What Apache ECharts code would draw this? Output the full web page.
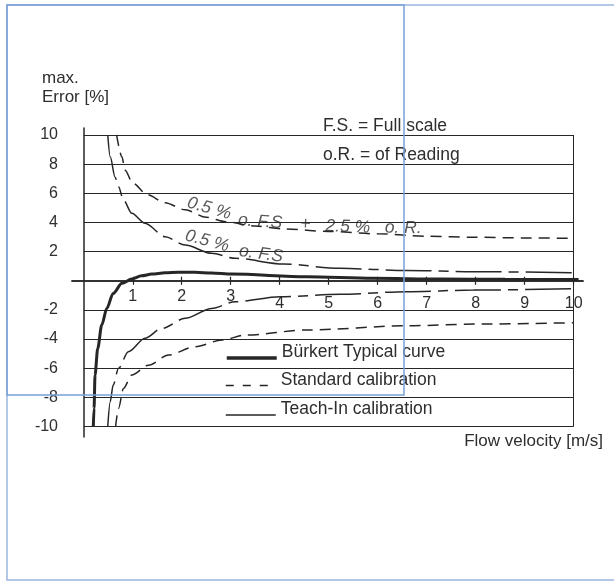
<!DOCTYPE html>
<html><head><meta charset="utf-8">
<script src="https://cdn.jsdelivr.net/npm/echarts@6/dist/echarts.min.js"></script>
<style>html,body{margin:0;padding:0;background:#fff}#c{width:614px;height:581px}</style>
</head><body><div id="c"></div>
<script>
// ---- data ----
const xTickValues = [1,2,3,4,5,6,7,8,9,10];
const yTickValues = [-10,-8,-6,-4,-2,2,4,6,8,10];
const gridValues  = [-10,-8,-6,-4,-2,2,4,6,8,10];

const burkertV = [0.195,0.21,0.23,0.285,0.367,0.47,0.60,0.78,0.98,1.18,1.39,1.66,1.93,2.27,2.61,3.02,4.55,5.9,7.3,8.6,10.1];
const burkertE = [-10,-8.76,-6.47,-4.64,-3.04,-1.9,-0.87,-0.18,0.12,0.34,0.46,0.55,0.58,0.58,0.53,0.46,0.27,0.17,0.12,0.10,0.08];

const stdUpV = [0.67,0.78,0.84,1.0,1.3,1.66,2.07,2.5,2.9,3.5,4.1,5.0,6.0,7.0,8.0,9.0,10.0];
const stdUpE = [10,8.5,7.6,6.7,5.9,5.35,4.87,4.35,4.05,3.75,3.55,3.38,3.22,3.05,2.98,2.94,2.91];
const stdLoV = [0.65,0.71,0.81,0.98,1.32,1.73,2.27,2.82,3.29,4.55,6.59,8.0,10.0];
const stdLoE = [-10,-8.76,-7.39,-6.47,-5.79,-5.1,-4.53,-4.07,-3.73,-3.38,-3.09,-2.97,-2.88];

const tiUpV = [0.49,0.54,0.64,0.71,0.81,0.98,1.25,1.66,2.07,2.61,3.09,4.07,5.23,6.59,7.95,10.0];
const tiUpE = [10,8.5,7.1,6.45,5.54,4.63,3.94,3.02,2.45,1.88,1.54,1.15,0.85,0.71,0.62,0.55];
const tiLoV = [0.49,0.54,0.60,0.71,0.91,1.25,1.59,2.07,2.61,3.09,4.01,5.23,6.59,7.95,10.0];
const tiLoE = [-10,-8.3,-7.16,-6.0,-4.87,-3.95,-3.27,-2.58,-1.9,-1.44,-1.1,-0.93,-0.75,-0.64,-0.55];

const annotText = ['0.5 %','o. F.S','+','2.5 %','o. R.','0.5 %','o. F.S'];
const annotV    = [2.56, 3.60, 4.52, 5.39, 6.52, 2.52, 3.62];
const annotE    = [4.96, 4.05, 3.89, 3.69, 3.62, 2.72, 1.83];
const annotRot  = [-16, -4, -2, -2, -1, -15, -8];

const seriesNames = ['Bürkert Typical curve','Standard calibration','Teach-In calibration'];
// -------------------------------------

const F = "'Liberation Sans', Arial, Helvetica, sans-serif";
const C = '#262626';
const T = '#2e2e2e';
const pts = (vs, es) => vs.map((v, i) => [v, es[i]]);

const chart = echarts.init(document.getElementById('c'), null, {renderer: 'canvas'});

const gridLines = gridValues.map(y => [{coord: [0, y]}, {coord: [10, y]}])
  .concat([[{coord: [10, -10]}, {coord: [10, 10]}]]);

const legendBase = {
  left: 225, orient: 'horizontal', itemWidth: 50, itemHeight: 12, padding: 0,
  selectedMode: false,
  itemStyle: {color: 'rgba(0,0,0,0)', borderWidth: 0, opacity: 0},
  formatter: '{a|{name}}',
  textStyle: {fontSize: 17.5, color: T, fontFamily: F,
    rich: {a: {fontSize: 17.5, color: T, fontFamily: F, padding: [0, 0, 11, 0]}}}
};

const option = {
  animation: false,
  backgroundColor: '#fff',
  grid: [
    {left: 72, right: 31, top: 128, bottom: 144, containLabel: false},
    {left: 72, right: 31, top: 128, bottom: 300, containLabel: false}
  ],
  title: [
    {text: 'max.\nError [%]', left: 42, top: 69, padding: 0,
     textStyle: {fontSize: 17, lineHeight: 19, fontWeight: 'normal', color: T, fontFamily: F}},
    {text: 'F.S. = Full scale', left: 323, top: 117, padding: 0,
     textStyle: {fontSize: 17.5, fontWeight: 'normal', color: T, fontFamily: F}},
    {text: 'o.R. = of Reading', left: 323, top: 146, padding: 0,
     textStyle: {fontSize: 17.5, fontWeight: 'normal', color: T, fontFamily: F}},
    {text: 'Flow velocity [m/s]', right: 11, top: 433, padding: 0,
     textStyle: {fontSize: 17, fontWeight: 'normal', color: T, fontFamily: F}}
  ],
  legend: [
    Object.assign({}, legendBase, {top: 343.5, data: [{name: seriesNames[0], lineStyle: {width: 3.5, type: 'solid'}}]}),
    Object.assign({}, legendBase, {top: 371, data: [{name: seriesNames[1], lineStyle: {width: 1.5, type: [8, 9]}}]}),
    Object.assign({}, legendBase, {top: 400.5, data: [{name: seriesNames[2], lineStyle: {width: 1.5, type: 'solid'}}]})
  ],
  xAxis: [
    {type: 'value', gridIndex: 0, min: -0.24, max: 10.19, position: 'bottom',
     axisLine: {show: true, onZero: true, onZeroAxisIndex: 0, lineStyle: {color: C, width: 1.5}},
     axisTick: {show: true, customValues: xTickValues, length: 4, lineStyle: {color: C, width: 1.2}},
     axisLabel: {show: false},
     splitLine: {show: false}},
    {type: 'value', gridIndex: 0, min: -0.24, max: 10.19, position: 'top',
     axisLine: {show: true, onZero: true, onZeroAxisIndex: 0, lineStyle: {color: C, width: 1.5}},
     axisTick: {show: true, customValues: xTickValues, length: 4, lineStyle: {color: C, width: 1.2}},
     axisLabel: {show: false},
     splitLine: {show: false}},
    {type: 'value', gridIndex: 1, min: -0.24, max: 10.19, position: 'bottom',
     axisLine: {show: false, onZero: false},
     axisTick: {show: false},
     axisLabel: {show: true, customValues: xTickValues, margin: 8,
       formatter: v => (v <= 3 ? '{a|' + v + '}' : '{b|' + v + '}'),
       rich: {a: {fontSize: 16, color: T, fontFamily: F},
              b: {fontSize: 16, color: T, fontFamily: F, padding: [7, 0, 0, 0]}}},
     splitLine: {show: false}}
  ],
  yAxis: [
    {type: 'value', gridIndex: 0, min: -10.72, max: 10.48,
     axisLine: {show: true, onZero: true, onZeroAxisIndex: 0, lineStyle: {color: C, width: 1.5}},
     axisTick: {show: false},
     axisLabel: {show: true, customValues: yTickValues, margin: 14, fontSize: 16, color: T, fontFamily: F},
     splitLine: {show: false}},
    {type: 'value', gridIndex: 1, min: 0, max: 1, show: false}
  ],
  graphic: [
    {type: 'rect', z: 100, silent: true, shape: {x: 7, y: 5, width: 700, height: 575},
     style: {fill: 'none', stroke: '#9ab6df', lineWidth: 1.5}},
    {type: 'rect', z: 100, silent: true, shape: {x: 7, y: 5, width: 397, height: 390},
     style: {fill: 'none', stroke: '#7aa0d8', lineWidth: 1.5}}
  ],
  series: [
    {name: 'grid', type: 'line', data: [], silent: true,
     markLine: {silent: true, symbol: ['none', 'none'], label: {show: false},
       lineStyle: {color: C, width: 1, type: 'solid'}, emphasis: {disabled: true}, data: gridLines}},
    {name: seriesNames[0], type: 'line', data: pts(burkertV, burkertE), symbol: 'none',
     smooth: 0.3, smoothMonotone: 'x', silent: true,
     lineStyle: {color: C, width: 3, type: 'solid'}, itemStyle: {color: C}},
    {name: seriesNames[1], type: 'line', data: pts(stdUpV, stdUpE), symbol: 'none',
     smooth: 0.3, smoothMonotone: 'x', silent: true,
     lineStyle: {color: C, width: 1.5, type: [11, 7]}, itemStyle: {color: C}},
    {name: seriesNames[1], type: 'line', data: pts(stdLoV, stdLoE), symbol: 'none',
     smooth: 0.3, smoothMonotone: 'x', silent: true,
     lineStyle: {color: C, width: 1.5, type: [11, 7]}, itemStyle: {color: C}},
    {name: seriesNames[2], type: 'line', data: pts(tiUpV, tiUpE), symbol: 'none',
     smooth: 0.3, smoothMonotone: 'x', silent: true,
     lineStyle: {color: C, width: 1.5, type: [46, 7, 10, 7]}, itemStyle: {color: C}},
    {name: seriesNames[2], type: 'line', data: pts(tiLoV, tiLoE), symbol: 'none',
     smooth: 0.3, smoothMonotone: 'x', silent: true,
     lineStyle: {color: C, width: 1.5, type: [46, 7, 10, 7]}, itemStyle: {color: C}},
    {name: 'annotations', type: 'scatter', symbolSize: 0, silent: true,
     data: annotText.map((t, i) => ({name: t, value: [annotV[i], annotE[i]], label: {rotate: annotRot[i]}})),
     label: {show: true, position: 'inside', formatter: '{b}', fontSize: 17.5, fontStyle: 'italic',
       color: T, fontFamily: F}}
  ]
};
chart.setOption(option);
</script>
</body></html>
